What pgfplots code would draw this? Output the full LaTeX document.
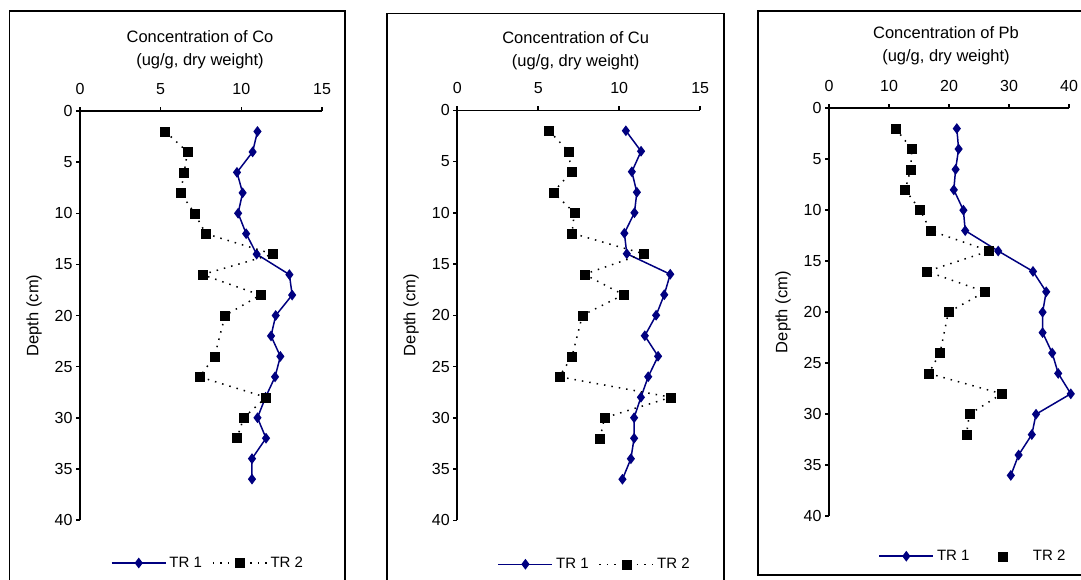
\documentclass[border=0pt]{standalone}
\usepackage{fontspec}
\setmainfont{Liberation Sans}
\usepackage{pgfplots}
\pgfplotsset{compat=1.18}
\definecolor{trblue}{RGB}{0,0,128}
\newcommand{\chartfont}{\fontsize{15}{23}\selectfont}
\newcommand{\tickfont}{\fontsize{16}{20}\selectfont}
\newcommand{\titlefont}{\fontsize{16.5}{23}\selectfont}
\pgfplotsset{
  legend image code/.code={\draw[mark repeat=2,mark phase=2,#1] plot coordinates {(0pt,0pt) (27pt,0pt) (54pt,0pt)};},
  depthaxis/.style={
    scale only axis,
    clip mode=individual,
    y dir=reverse,
    ymin=0, ymax=40,
    ytick={0,5,...,40},
    xmin=0,
    axis x line=top, axis y line=left,
    axis line style={-, line width=1.5pt, black},
    every tick/.style={line width=1.5pt, black},
    tick align=outside,
    major tick length=4pt,
    /pgf/number format/assume math mode=true,
    tick label style={font=\tickfont},
    xticklabel style={yshift=9pt},
    label style={font=\titlefont},
    ylabel={Depth (cm)},
    ylabel style={at={(axis description cs:0,0.5)}, anchor=center, yshift=46pt},
    legend style={draw=none, fill=none, font=\chartfont, legend columns=2,
      at={(axis description cs:0.5,0)}, anchor=center,
      /tikz/every even column/.append style={column sep=8pt},
      /tikz/every odd column/.append style={column sep=1pt}},
    legend cell align=left,
  },
  tra/.style={trblue, line width=1.5pt, mark=diamond*, mark size=4.2pt, mark options={solid, fill=trblue, draw=trblue}},
  trb/.style={black, line width=1.5pt, dash pattern=on 1.5pt off 6pt, mark=square*, mark size=4.5pt, mark options={solid, fill=black, draw=black, line width=0.5pt}},
}
\begin{document}
\begin{tikzpicture}
\useasboundingbox (0,0) rectangle (1081pt,579pt);
\fill[white] (0,0) rectangle (1081pt,579pt);
\draw[line width=1.5pt] (9.5pt,568pt) rectangle (345pt,-10pt);
\draw[line width=1.5pt] (387pt,565.5pt) rectangle (724pt,-10pt);
\draw[line width=1.5pt] (758pt,568pt) rectangle (1095pt,4pt);

% Co
\begin{axis}[depthaxis, at={(201pt,263.5pt)}, anchor=center,
  width=242pt, height=409pt, xmax=15, xtick={0,5,10,15},
  legend style={yshift=-43pt, xshift=7pt}]
\node[font=\titlefont, align=center] at (axis description cs:0.5,1) [yshift=61.5pt, xshift=-1pt] {Concentration of Co\\(ug/g, dry weight)};
\addplot[tra] coordinates {(11.0,2) (10.7,4) (9.73,6) (10.08,8) (9.8,10) (10.3,12) (10.95,14) (12.98,16) (13.15,18) (12.13,20) (11.84,22) (12.42,24) (12.09,26) (11.5,28) (11.0,30) (11.53,32) (10.66,34) (10.66,36)};
\addlegendentry{TR 1}
\addplot[trb] coordinates {(5.28,2) (6.66,4) (6.46,6) (6.23,8) (7.1,10) (7.8,12) (11.97,14) (7.58,16) (11.18,18) (8.99,20) (8.34,24) (7.41,26) (11.53,28) (10.15,30) (9.73,32)};
\addlegendentry{TR 2}
\end{axis}

% Cu
\begin{axis}[depthaxis, at={(578.7pt,263.75pt)}, anchor=center,
  width=243pt, height=410pt, xmax=15, xtick={0,5,10,15},
  legend style={yshift=-44pt, xshift=16pt}]
\node[font=\titlefont, align=center] at (axis description cs:0.5,1) [yshift=60pt, xshift=-3pt] {Concentration of Cu\\(ug/g, dry weight)};
\addplot[tra] coordinates {(10.41,2) (11.35,4) (10.78,6) (11.09,8) (10.94,10) (10.32,12) (10.47,14) (13.15,16) (12.78,18) (12.28,20) (11.58,22) (12.4,24) (11.79,26) (11.34,28) (10.92,30) (10.92,32) (10.72,34) (10.2,36)};
\addlegendentry{TR 1}
\addplot[trb] coordinates {(5.67,2) (6.86,4) (7.05,6) (5.93,8) (7.23,10) (7.09,12) (11.5,14) (7.85,16) (10.26,18) (7.73,20) (7.09,24) (6.3,26) (13.2,28) (9.09,30) (8.82,32)};
\addlegendentry{TR 2}
\end{axis}

% Pb
\begin{axis}[depthaxis, at={(949pt,266.8pt)}, anchor=center,
  width=240pt, height=408pt, xmax=40, xtick={0,10,20,30,40}, clip=false,
  legend style={yshift=-40pt, xshift=24pt, /tikz/every even column/.append style={column sep=4pt}}]
\node[font=\titlefont, align=center] at (axis description cs:0.5,1) [yshift=62pt, xshift=-3pt] {Concentration of Pb\\(ug/g, dry weight)};
\addplot[tra] coordinates {(21.3,2) (21.6,4) (21.1,6) (20.8,8) (22.4,10) (22.7,12) (28.2,14) (34.0,16) (36.2,18) (35.6,20) (35.6,22) (37.2,24) (38.2,26) (40.3,28) (34.5,30) (33.8,32) (31.6,34) (30.3,36)};
\addlegendentry{TR 1}
\addplot[trb, forget plot] coordinates {(11.1,2) (13.8,4) (13.6,6) (12.7,8) (15.2,10) (16.9,12) (26.7,14) (16.3,16) (26.0,18) (19.9,20) (18.5,24) (16.6,26) (28.8,28) (23.4,30) (22.9,32)};
\addlegendimage{legend image code/.code={\path (0pt,0pt) (54pt,0pt); \fill[black] (22.5pt,-4.5pt) rectangle (31.5pt,4.5pt);}}
\addlegendentry{TR 2}
\end{axis}
\end{tikzpicture}
\end{document}
